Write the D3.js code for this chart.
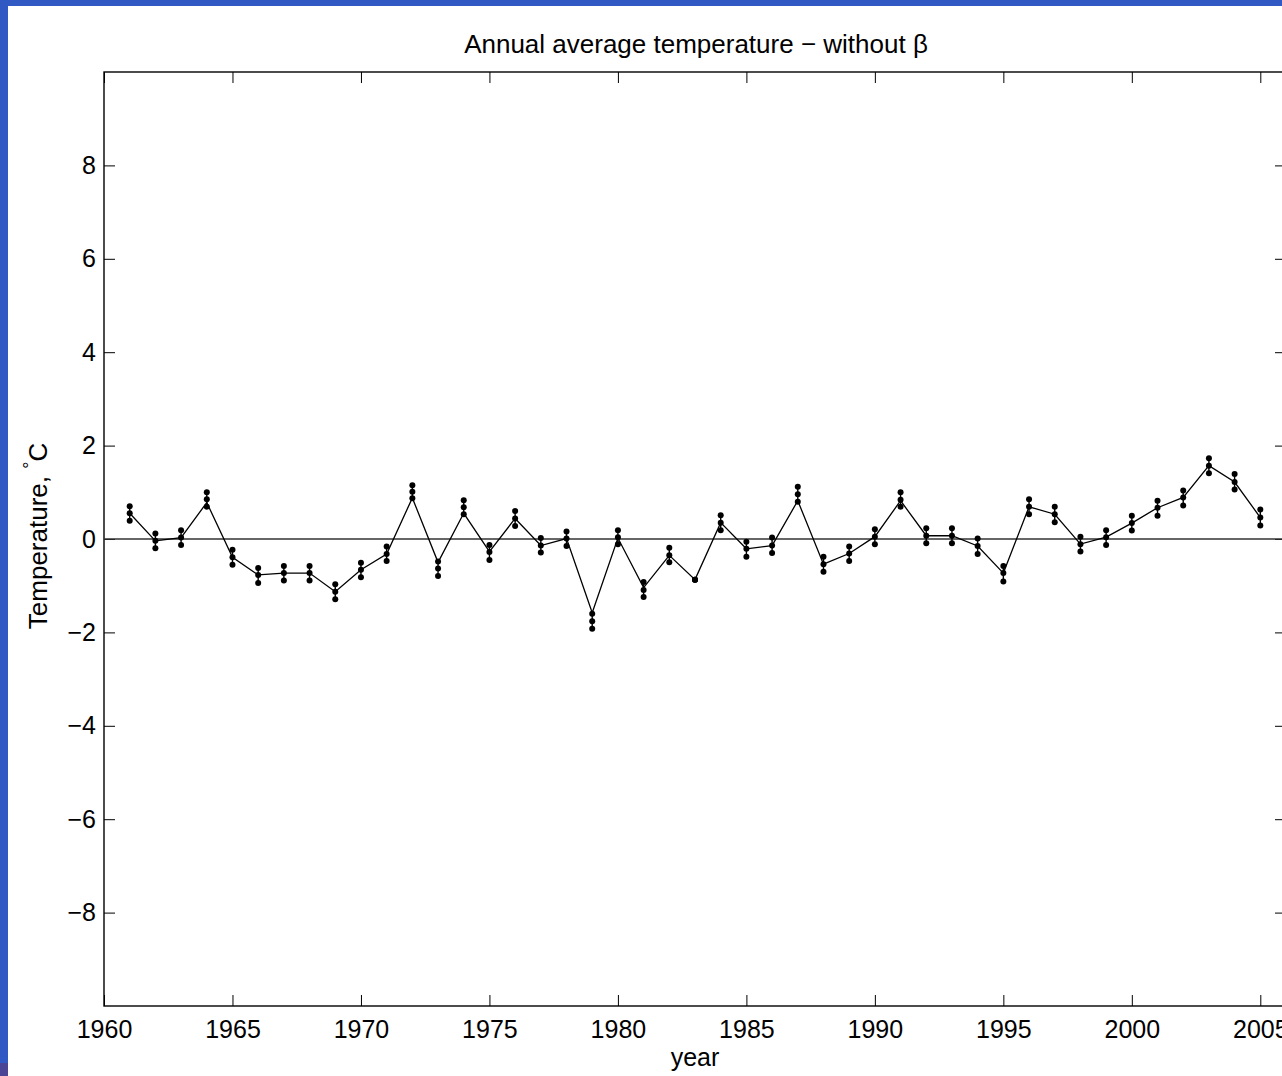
<!DOCTYPE html>
<html>
<head>
<meta charset="utf-8">
<script src="https://cdn.jsdelivr.net/npm/d3@7"></script>
<style>
  body { margin: 0; background: #3159c4; }
  svg { display: block; }
  text { font-family: "Liberation Sans", Arial, Helvetica, sans-serif; }
</style>
</head>
<body>
<svg id="chart"></svg>
<script>
"use strict";

var years = d3.range(1961, 2006);

// line through the annual values
var lineVals = [0.55, -0.04, 0.03, 0.78, -0.39, -0.77, -0.73, -0.73, -1.13, -0.66,
    -0.32, 0.88, -0.50, 0.55, -0.27, 0.44, -0.14, 0.01, -1.58, 0.02,
    -1.04, -0.35, -0.87, 0.35, -0.21, -0.14, 0.82, -0.54, -0.31, 0.05,
    0.82, 0.07, 0.07, -0.15, -0.73, 0.69, 0.53, -0.11, 0.04, 0.34,
    0.67, 0.89, 1.57, 1.22, 0.46];

// three dots per year
var upperVals = [0.70, 0.12, 0.19, 1.00, -0.23, -0.62, -0.58, -0.58, -0.97, -0.51,
    -0.16, 1.15, -0.48, 0.83, -0.13, 0.60, 0.02, 0.16, -1.60, 0.19,
    -0.92, -0.19, -0.87, 0.51, -0.06, 0.03, 1.12, -0.38, -0.16, 0.21,
    1.00, 0.23, 0.23, 0.01, -0.58, 0.85, 0.69, 0.05, 0.19, 0.50,
    0.82, 1.04, 1.73, 1.39, 0.63];
var midVals = [0.55, -0.04, 0.03, 0.85, -0.39, -0.77, -0.73, -0.73, -1.13, -0.66,
    -0.32, 1.01, -0.63, 0.68, -0.28, 0.44, -0.14, 0.01, -1.76, 0.04,
    -1.09, -0.35, -0.87, 0.35, -0.21, -0.14, 0.96, -0.54, -0.31, 0.05,
    0.84, 0.07, 0.07, -0.15, -0.73, 0.69, 0.53, -0.11, 0.04, 0.34,
    0.67, 0.89, 1.57, 1.22, 0.46];
var lowerVals = [0.39, -0.20, -0.13, 0.69, -0.55, -0.94, -0.89, -0.89, -1.29, -0.82,
    -0.47, 0.87, -0.79, 0.53, -0.45, 0.28, -0.29, -0.15, -1.92, -0.11,
    -1.24, -0.50, -0.87, 0.19, -0.38, -0.30, 0.80, -0.70, -0.47, -0.11,
    0.69, -0.09, -0.09, -0.32, -0.91, 0.53, 0.36, -0.27, -0.13, 0.18,
    0.50, 0.72, 1.41, 1.06, 0.29];

var xTicks = [1960, 1965, 1970, 1975, 1980, 1985, 1990, 1995, 2000, 2005];
var yTicks = [-8, -6, -4, -2, 0, 2, 4, 6, 8];

var W = 1282, H = 1076;
var margin = { left: 104, top: 72, right: 1286, bottom: 1006 };

var svg = d3.select('#chart').attr('width', W).attr('height', H);

svg.append('rect').attr('width', W).attr('height', H).attr('fill', '#3159c4');
svg.append('rect').attr('x', 0).attr('y', 1063).attr('width', 8).attr('height', 13).attr('fill', '#4b4596');
svg.append('rect').attr('x', 8).attr('y', 6).attr('width', W - 8).attr('height', H - 6).attr('fill', '#fff');

var x = d3.scaleLinear().domain([1960, 2006]).range([margin.left, margin.right]);
var y = d3.scaleLinear().domain([-10, 10]).range([margin.bottom, margin.top]);

var fmt = function(d) { return d3.format('')(d).replace('-', '\u2212'); };

function styleAxis(g) {
    g.select('.domain').remove();
    g.selectAll('line').attr('stroke', '#000').attr('stroke-width', 1);
    g.selectAll('text').attr('font-size', 25).attr('fill', '#000')
        .attr('font-family', '"Liberation Sans", Arial, Helvetica, sans-serif');
}

svg.append('g').attr('transform', `translate(0,${margin.bottom})`)
    .call(d3.axisBottom(x).tickValues(xTicks).tickFormat(d3.format('d')).tickSizeInner(-11).tickSizeOuter(0).tickPadding(14))
    .call(styleAxis);
svg.append('g').attr('transform', `translate(0,${margin.top})`)
    .call(d3.axisTop(x).tickValues(xTicks).tickFormat('').tickSizeInner(-11).tickSizeOuter(0))
    .call(styleAxis);
svg.append('g').attr('transform', `translate(${margin.left},0)`)
    .call(d3.axisLeft(y).tickValues(yTicks).tickFormat(fmt).tickSizeInner(-11).tickSizeOuter(0).tickPadding(8))
    .call(styleAxis);
svg.append('g').attr('transform', `translate(${margin.right},0)`)
    .call(d3.axisRight(y).tickValues(yTicks).tickFormat('').tickSizeInner(-11).tickSizeOuter(0))
    .call(styleAxis);

// box
svg.append('rect')
    .attr('x', margin.left).attr('y', margin.top)
    .attr('width', margin.right - margin.left).attr('height', margin.bottom - margin.top)
    .attr('fill', 'none').attr('stroke', '#000').attr('stroke-width', 1.4);

// zero line
svg.append('line')
    .attr('x1', margin.left).attr('x2', margin.right)
    .attr('y1', y(0)).attr('y2', y(0))
    .attr('stroke', '#333').attr('stroke-width', 1.3);

var pts = years.map(function(yr, i) {
    return { year: yr, v: lineVals[i], hi: upperVals[i], mid: midVals[i], lo: lowerVals[i] };
});

svg.append('path')
    .datum(pts)
    .attr('fill', 'none')
    .attr('stroke', '#000')
    .attr('stroke-width', 1.3)
    .attr('d', d3.line().x(d => x(d.year)).y(d => y(d.v)));

var bars = svg.append('g').selectAll('g').data(pts).enter().append('g');
bars.append('line')
    .attr('x1', d => x(d.year)).attr('x2', d => x(d.year))
    .attr('y1', d => y(d.hi)).attr('y2', d => y(d.lo))
    .attr('stroke', '#000').attr('stroke-width', 1.4);
['hi', 'mid', 'lo'].forEach(function(k) {
    bars.append('circle')
        .attr('cx', d => x(d.year))
        .attr('cy', d => y(d[k]))
        .attr('r', 3)
        .attr('fill', '#000');
});

// labels
svg.append('text')
    .attr('x', 696).attr('y', 53)
    .attr('text-anchor', 'middle').attr('font-size', 26)
    .text('Annual average temperature \u2212 without \u03b2');

svg.append('text')
    .attr('x', 695).attr('y', 1066)
    .attr('text-anchor', 'middle').attr('font-size', 25)
    .text('year');

var yl = svg.append('text')
    .attr('transform', 'translate(47,536) rotate(-90)')
    .attr('text-anchor', 'middle').attr('font-size', 26);
yl.append('tspan').text('Temperature, ');
yl.append('tspan').attr('font-size', 18).attr('dy', -11).text('\u00b0');
yl.append('tspan').attr('dy', 11).text('C');
</script>
</body>
</html>
